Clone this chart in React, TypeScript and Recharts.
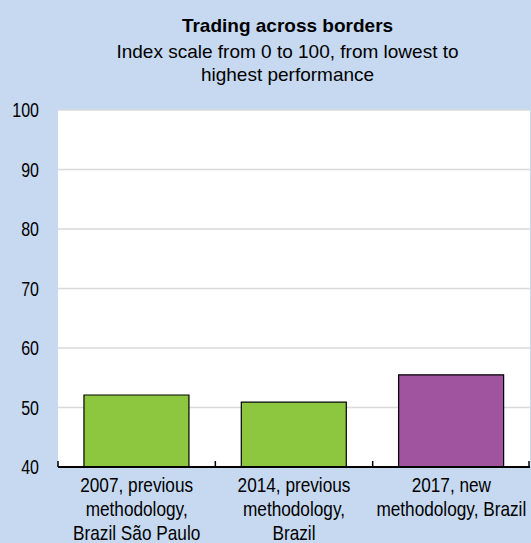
import { BarChart, Bar, XAxis, YAxis, CartesianGrid, Cell } from "recharts"

const categories = [
  "2007, previous|methodology,|Brazil São Paulo",
  "2014, previous|methodology,|Brazil",
  "2017, new|methodology, Brazil",
]
const scores = [52.1, 50.9, 55.5]
const barColors = ["#8dc63f", "#8dc63f", "#a0539f"]
const yTicks = [40, 50, 60, 70, 80, 90, 100]

const data = categories.map((label, i) => ({ label, value: scores[i] }))

const FONT = "'Liberation Sans', Arial, sans-serif"
// no narrow font installed, so squeeze the axis text horizontally
const SQUEEZE = 0.82

// category labels split on "|", ticks at the category boundaries pointing up
function CategoryTick(props: any) {
  const { x, y, payload, index, visibleTicksCount } = props
  const half = payload.offset ?? 0
  const lines = String(payload.value).split("|")
  const isLast = index === visibleTicksCount - 1
  return (
    <g>
      <line x1={x - half} x2={x - half} y1={y} y2={y - 6} stroke="#000" strokeWidth={1.5} />
      {isLast && <line x1={x + half - 1} x2={x + half - 1} y1={y} y2={y - 6} stroke="#000" strokeWidth={1.5} />}
      <text
        transform={`translate(${x},${y}) scale(${SQUEEZE},1)`}
        textAnchor="middle"
        fill="#000"
        fontSize={21}
        fontFamily={FONT}
      >
        {lines.map((l, i) => (
          <tspan key={i} x={0} dy={i === 0 ? 25 : 24}>
            {l}
          </tspan>
        ))}
      </text>
    </g>
  )
}

function ValueTick(props: any) {
  const { x, y, payload } = props
  return (
    <text
      transform={`translate(${x},${y}) scale(${SQUEEZE},1)`}
      textAnchor="end"
      dy={7}
      fill="#000"
      fontSize={19.5}
      fontFamily={FONT}
    >
      {payload.value}
    </text>
  )
}

export default function App() {
  return (
    <div
      style={{
        position: "absolute",
        top: 0,
        left: 0,
        width: 531,
        height: 543,
        background: "#c6d9f0",
        fontFamily: FONT,
        overflow: "hidden",
      }}
    >
      <div style={{ position: "absolute", top: 13, left: 0, width: 575, textAlign: "center", color: "#000" }}>
        <div style={{ fontSize: 19, fontWeight: "bold", lineHeight: "25px" }}>Trading across borders</div>
        <div style={{ fontSize: 19, lineHeight: "23px", marginTop: 2 }}>
          Index scale from 0 to 100, from lowest to
          <br />
          highest performance
        </div>
      </div>
      <BarChart
        width={531}
        height={543}
        data={data}
        margin={{ top: 110, right: 1, left: 0, bottom: 0 }}
        barCategoryGap="16.5%"
        style={{ position: "absolute", top: 0, left: 0 }}
      >
        <CartesianGrid vertical={false} stroke="#d9d9d9" strokeWidth={1.5} fill="#fff" fillOpacity={1} />
        <XAxis
          dataKey="label"
          axisLine={{ stroke: "#000", strokeWidth: 2 }}
          tickLine={false}
          tickSize={0}
          tickMargin={0}
          tick={<CategoryTick />}
          interval={0}
          height={76}
        />
        <YAxis
          domain={[40, 100]}
          ticks={yTicks}
          width={58}
          axisLine={false}
          tickLine={false}
          tickSize={0}
          tickMargin={19}
          tick={<ValueTick />}
        />
        <Bar dataKey="value" stroke="#000" strokeWidth={1.2} isAnimationActive={false}>
          {data.map((d, i) => (
            <Cell key={d.label} fill={barColors[i]} />
          ))}
        </Bar>
      </BarChart>
    </div>
  )
}
